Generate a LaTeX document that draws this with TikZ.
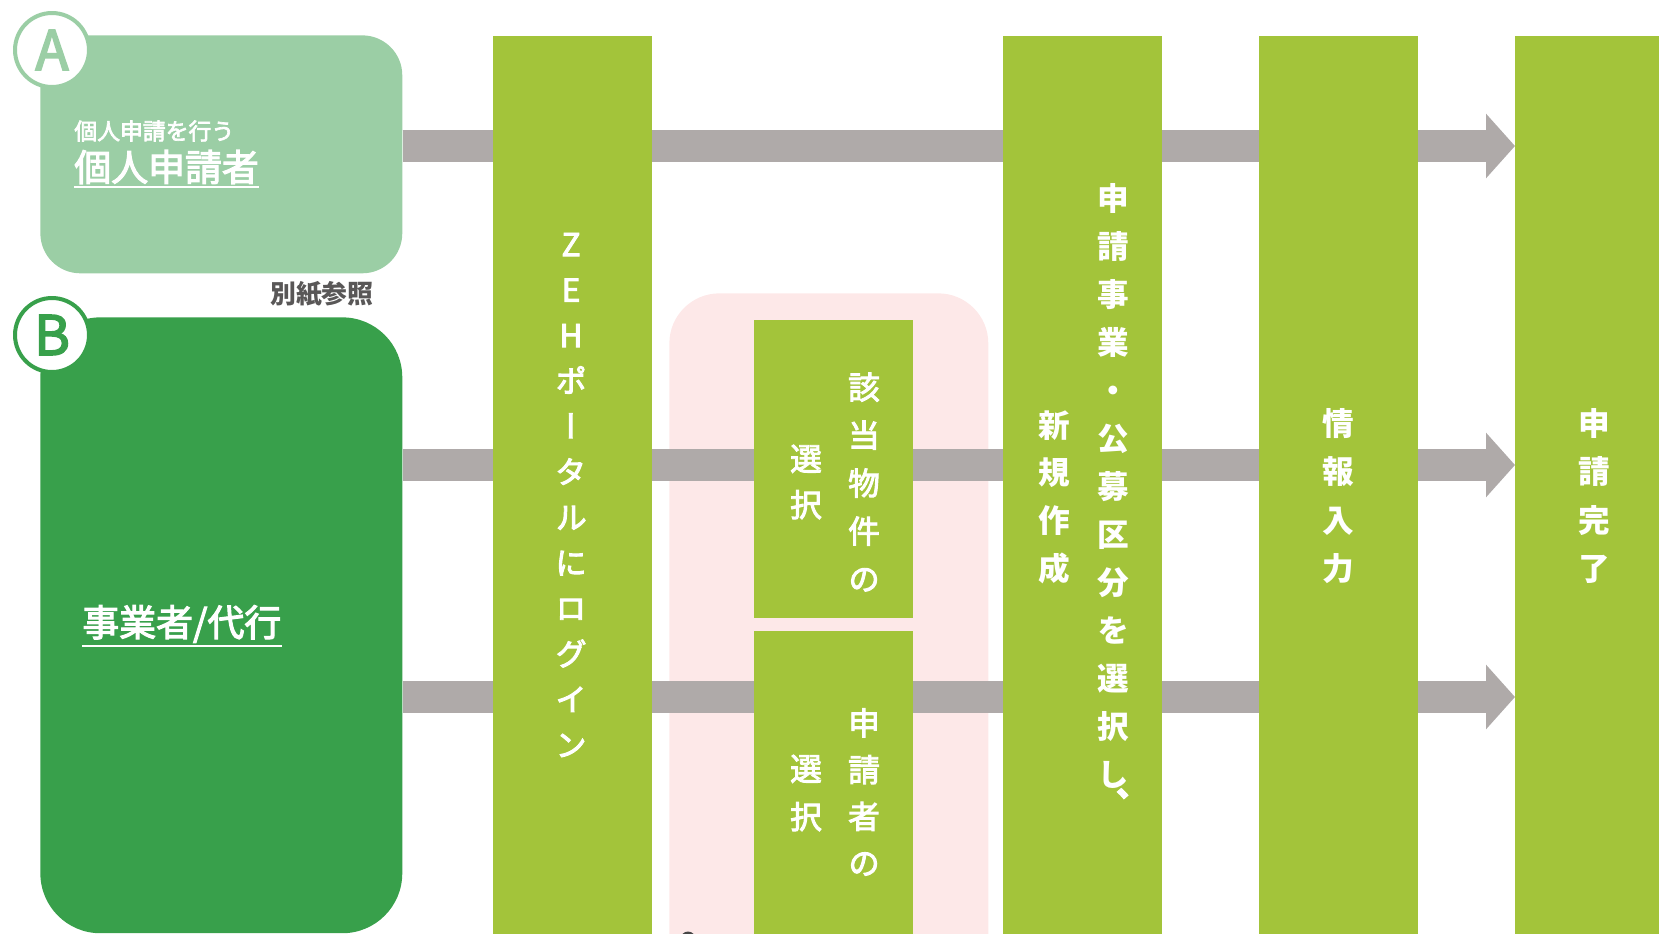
\documentclass[tikz,border=0pt]{standalone}
\usepackage{fontspec}
\setmainfont{Noto Sans CJK JP}
\newfontfamily\medfont[FakeBold=3]{Noto Sans CJK JP}
\newfontfamily\vfont[RawFeature=+vert, FakeBold=3]{Noto Sans CJK JP}
\newfontfamily\vbold[RawFeature=+vert]{Noto Sans CJK JP}
\usetikzlibrary{arrows.meta,positioning}

\definecolor{lightgreen}{HTML}{9BCEA5}
\definecolor{darkgreen}{HTML}{38A04B}
\definecolor{lime}{HTML}{A3C43A}
\definecolor{bargray}{HTML}{AFAAA9}
\definecolor{pinkbg}{HTML}{FDE8E8}
\definecolor{notegray}{HTML}{595757}

\pgfdeclarelayer{background}
\pgfsetlayers{background,main}

% comma sitting low beside the last character of a column
\newcommand{\lowcomma}{\rlap{\kern-0.4em\smash{\raisebox{-0.32em}{\medfont 、}}}}

\tikzset{
	user/.style={fill=#1, minimum width=7.24cm, anchor=north west, inner sep=0},
	badge/.style={circle, draw=#1, text=#1, fill=white, line width=0.08cm, minimum size=1.48cm, inner sep=0, font=\medfont\fontsize{31pt}{31pt}\selectfont},
	stepcol/.style={fill=lime, minimum width=3.17cm, anchor=north west, inner sep=0},
	vlabel/.style={text=white, align=center, inner sep=0},
	hlabel/.style={text=white, anchor=west, inner sep=0},
	flow/.style={draw=bargray, line width=0.64cm, -{Triangle[length=0.58cm,width=1.26cm]}},
	uline/.style={draw=white, line width=0.04cm},
}

\begin{document}
\begin{tikzpicture}[x=0.02cm, y=-0.02cm]
				\useasboundingbox (0,0) rectangle (1659,933);
				\clip (0,0) rectangle (1659,933);
				
				% applicants
				\node[user=lightgreen, rounded corners=0.8cm, minimum height=4.76cm] (userA) at (40,35) {};
				\node[user=darkgreen, rounded corners=1.2cm, minimum height=12.32cm] (userB) at (40,317) {};
				\node[badge=lightgreen] (badgeA) at (52,50) {A};
				\node[badge=darkgreen] (badgeB) at (52,335) {B};
				
				\node[hlabel, font=\medfont\fontsize{13pt}{13pt}\selectfont] (roleA) at (74,131) {個人申請を行う};
				\node[hlabel, font=\medfont\fontsize{21pt}{21pt}\selectfont] (nameA) at (74,167) {個人申請者};
				\draw[uline] ([yshift=-0.06cm]nameA.south west) -- ([yshift=-0.06cm]nameA.south east);
				\node[hlabel, font=\medfont\fontsize{21pt}{21pt}\selectfont] (nameB) at (82,624) {事業者/代行};
				\draw[uline] ([yshift=-0.06cm]nameB.south west) -- ([yshift=-0.06cm]nameB.south east);
				\node[text=notegray, anchor=east, inner sep=0, font=\fontsize{14.7pt}{14.7pt}\selectfont\bfseries] (seeNote) at (374,294) {別紙参照};
				
				% steps
				\node[stepcol, minimum height=18.6cm] (zeh) at (493,36) {};
				\node[stepcol, minimum height=5.96cm] (pickProp) at (754,320) {};
				\node[stepcol, minimum height=6.8cm] (pickUser) at (754,631) {};
				\node[stepcol, minimum height=18.6cm] (newApp) at (1003,36) {};
				\node[stepcol, minimum height=18.6cm] (info) at (1259,36) {};
				\node[stepcol, minimum height=18.6cm] (done) at (1515,36) {};
				
				\node[vlabel, font=\vfont\fontsize{18pt}{25.9pt}\selectfont] (zehText) at (571,495) {Z\\E\\H\\ポ\\ー\\タ\\ル\\に\\ロ\\グ\\イ\\ン};
				\node[vlabel, font=\vfont\fontsize{18pt}{27.3pt}\selectfont] (propText) at (864,482) {該\\当\\物\\件\\の};
				\node[vlabel, font=\vfont\fontsize{18pt}{26.2pt}\selectfont] (propText2) at (806,482) {選\\択};
				\node[vlabel, font=\vfont\fontsize{18pt}{26.6pt}\selectfont] (userText) at (864,792) {申\\請\\者\\の};
				\node[vlabel, font=\vfont\fontsize{18pt}{27.3pt}\selectfont] (userText2) at (806,793) {選\\択};
				\node[vlabel, font=\vbold\fontsize{18pt}{27.3pt}\selectfont\bfseries] (newText) at (1113,486) {申\\請\\事\\業\\・\\公\\募\\区\\分\\を\\選\\択\\し\lowcomma};
				\node[vlabel, font=\vbold\fontsize{18pt}{27.1pt}\selectfont\bfseries] (newText2) at (1054,497) {新\\規\\作\\成};
				\node[vlabel, font=\vbold\fontsize{18pt}{27.5pt}\selectfont\bfseries] (infoText) at (1338,496) {情\\報\\入\\力};
				\node[vlabel, font=\vbold\fontsize{18pt}{27.5pt}\selectfont\bfseries] (doneText) at (1594,496) {申\\請\\完\\了};
				
				% flows
				\coordinate (rowA) at (0,146);
				\coordinate (rowB) at (0,465);
				\coordinate (rowC) at (0,697);
				\begin{pgfonlayer}{background}
				\node[fill=pinkbg, rounded corners=1cm, minimum width=6.38cm, minimum height=14cm, anchor=north west, inner sep=0] (pickGroup) at (669,293) {};
				\draw[flow] (userA.east |- rowA) -- (done.west |- rowA);
				\draw[flow] (userB.east |- rowB) -- (done.west |- rowB);
				\draw[flow] (userB.east |- rowC) -- (done.west |- rowC);
				\end{pgfonlayer}
				
				\fill[notegray!80!black] (688,939) circle (0.15cm);
\end{tikzpicture}
\end{document}
